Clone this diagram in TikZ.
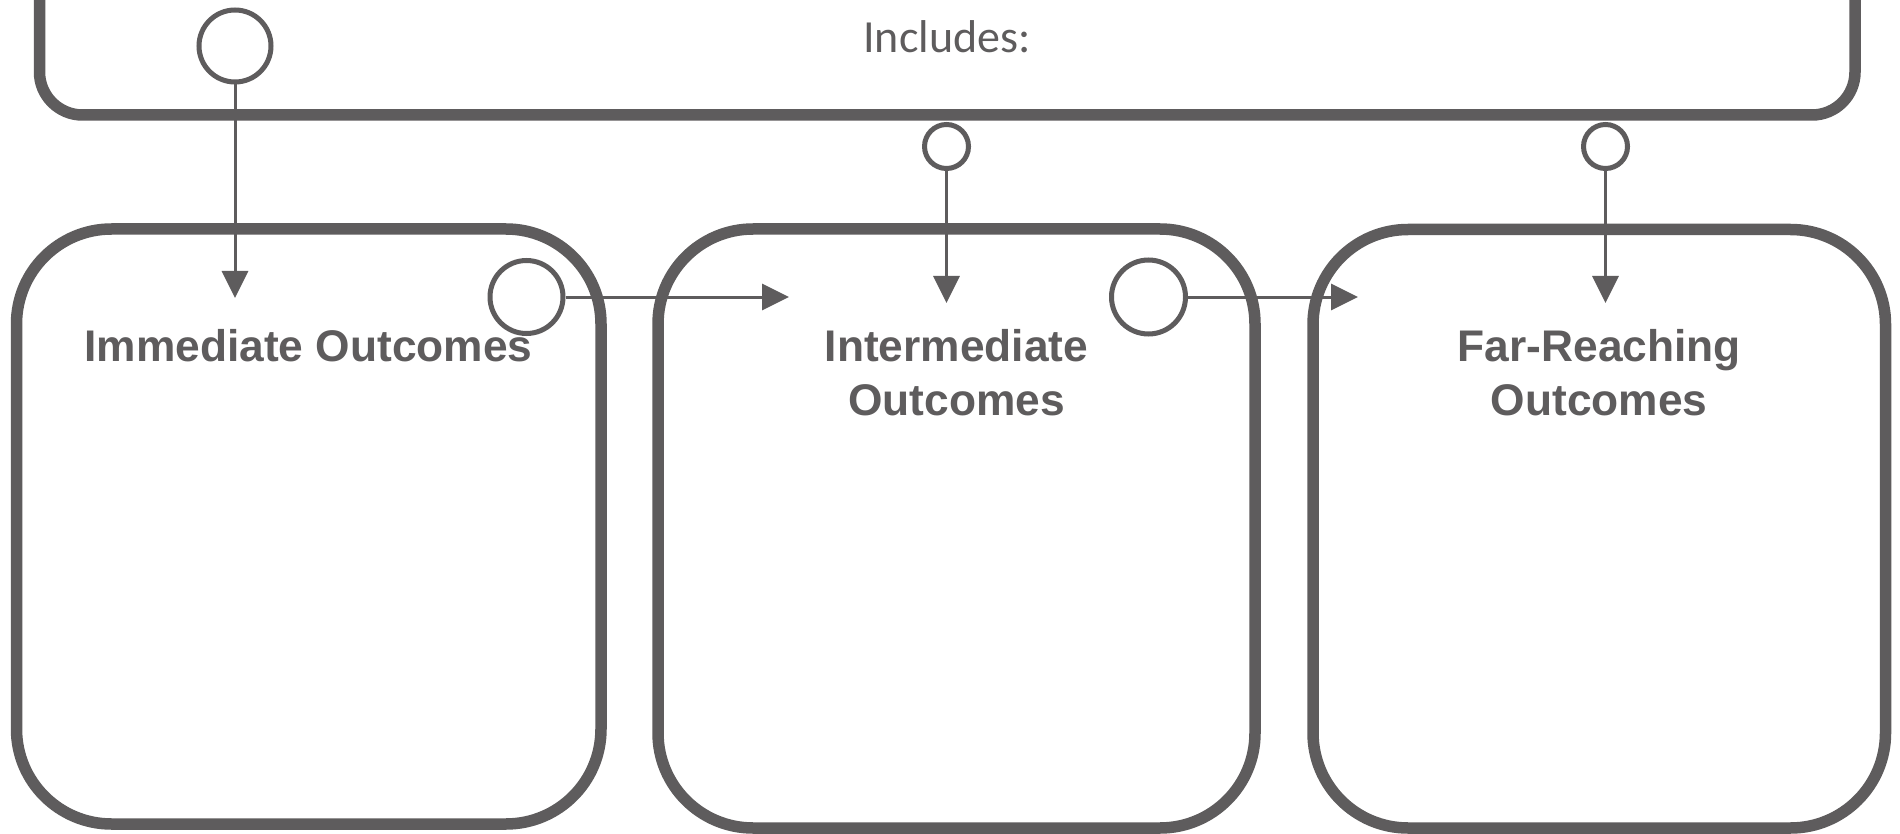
\documentclass[tikz,border=0pt]{standalone}
\usepackage{fontspec}
\newfontfamily\labelfont{Liberation Sans}
\newfontfamily\incfont{Carlito}
\usetikzlibrary{arrows.meta}
\definecolor{ink}{RGB}{94,92,93}
\begin{document}
\begin{tikzpicture}[x=1pt,y=-1pt,
  box/.style={draw=ink, line width=11.5pt, rounded corners=#1, inner sep=0pt, rectangle},
  ring/.style={circle, draw=ink, line width=5pt, inner sep=0pt, minimum size=#1},
  link/.style={draw=ink, line width=3pt, -{Triangle[length=27pt,width=26pt]}},
  title/.style={text=ink, font=\labelfont\bfseries\fontsize{44.3}{54}\selectfont, align=center, inner sep=0pt},
  inc/.style={text=ink, font=\incfont\fontsize{46}{56}\selectfont, inner sep=0pt},
]
\useasboundingbox (0,0) rectangle (1900,834);
\clip (0,0) rectangle (1900,834);
\fill[white] (0,0) rectangle (1900,834);

% boxes
\node[box=43pt, minimum width=1815.5pt, minimum height=175pt] (top) at (947.25,27.5) {};
\node[box=95pt, minimum width=584.5pt, minimum height=595pt] (imm) at (308.75,526.5) {};
\node[box=95pt, minimum width=597pt, minimum height=599pt] (int) at (956.5,528.5) {};
\node[box=95pt, minimum width=572.5pt, minimum height=598.5pt] (far) at (1599.25,528.75) {};

% circles
\node[ring=72pt] (c0) at (235,46) {};
\node[ring=73pt] (c1) at (526.5,297) {};
\node[ring=44pt] (c2) at (946.5,146.5) {};
\node[ring=74pt] (c3) at (1148.5,297) {};
\node[ring=44pt] (c4) at (1605.5,146.5) {};

% arrow tips
\coordinate (t0) at (235,298);
\coordinate (t1) at (789,297);
\coordinate (t2) at (946.5,303);
\coordinate (t3) at (1358,297);
\coordinate (t4) at (1605.5,303);

\draw[link] (c0) -- (t0);
\draw[link] (c1) -- (t1);
\draw[link] (c2) -- (t2);
\draw[link] (c3) -- (t3);
\draw[link] (c4) -- (t4);

% texts
\node[inc, anchor=base] (inctext) at (947,53) {Includes:};
\node[title, anchor=base] (immtext) at (308.5,361) {Immediate Outcomes};
\node[title, anchor=base] (inttext) at (956.5,415) {Intermediate\\Outcomes};
\node[title, anchor=base] (fartext) at (1599.25,415) {Far-Reaching\\Outcomes};
\end{tikzpicture}
\end{document}
